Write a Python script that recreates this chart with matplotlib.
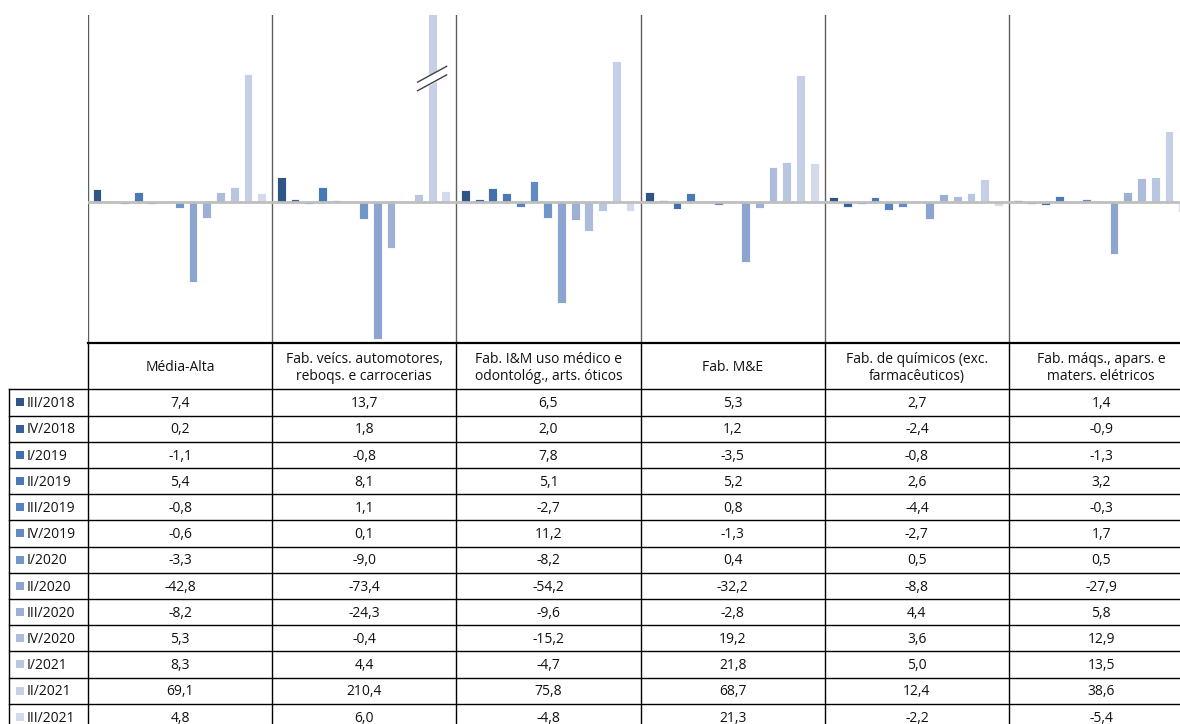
import numpy as np
import matplotlib
matplotlib.use("Agg")
import matplotlib.pyplot as plt

# Quarters (series) and sectors (categories)
quarters = ["III/2018", "IV/2018", "I/2019", "II/2019", "III/2019", "IV/2019",
            "I/2020", "II/2020", "III/2020", "IV/2020", "I/2021", "II/2021", "III/2021"]

sectors = ["Média-Alta",
           "Fab. veícs. automotores,\nreboqs. e carrocerias",
           "Fab. I&M uso médico e\nodontológ., arts. óticos",
           "Fab. M&E",
           "Fab. de químicos (exc.\nfarmacêuticos)",
           "Fab. máqs., apars. e\nmaters. elétricos"]

media_alta = [7.4, 0.2, -1.1, 5.4, -0.8, -0.6, -3.3, -42.8, -8.2, 5.3, 8.3, 69.1, 4.8]
veiculos = [13.7, 1.8, -0.8, 8.1, 1.1, 0.1, -9.0, -73.4, -24.3, -0.4, 4.4, 210.4, 6.0]
med_oticos = [6.5, 2.0, 7.8, 5.1, -2.7, 11.2, -8.2, -54.2, -9.6, -15.2, -4.7, 75.8, -4.8]
maq_equip = [5.3, 1.2, -3.5, 5.2, 0.8, -1.3, 0.4, -32.2, -2.8, 19.2, 21.8, 68.7, 21.3]
quimicos = [2.7, -2.4, -0.8, 2.6, -4.4, -2.7, 0.5, -8.8, 4.4, 3.6, 5.0, 12.4, -2.2]
eletricos = [1.4, -0.9, -1.3, 3.2, -0.3, 1.7, 0.5, -27.9, 5.8, 12.9, 13.5, 38.6, -5.4]

values = np.array([media_alta, veiculos, med_oticos, maq_equip, quimicos, eletricos])

colors = ["#2F5486", "#385F98", "#4170AC", "#4A79B8", "#5682C0", "#6189C4",
          "#7196CA", "#8CA5CF", "#9DB0D4", "#ADBCDC", "#B9C6E0", "#C5D0E6", "#D3DAEC"]

W, H = 1180, 724
fig = plt.figure(figsize=(W / 100, H / 100), dpi=100)
plt.rcParams["font.family"] = ["Open Sans", "DejaVu Sans"]

n_cat = len(sectors)
n_ser = len(quarters)
col_px = 184.2
x0_px = 88

# ---- bar chart ----
chart_top, chart_bot = 15, 343.3
ax = fig.add_axes([x0_px / W, 1 - chart_bot / H, n_cat * col_px / W, (chart_bot - chart_top) / H])
ax.set_xlim(0, n_cat)
ax.set_ylim(-75.8, 100.7)
ax.axis("off")

slot = 13.72 / col_px
first = 9.0 / col_px
bw = 8.8 / col_px
for i in range(n_ser):
    xs = np.arange(n_cat) + first + i * slot
    ax.bar(xs, values[:, i], width=bw, color=colors[i], edgecolor="white",
           linewidth=0.6, zorder=2)

ax.axhline(0, color="#BFBFBF", lw=2, zorder=3)
for c in range(n_cat + 1):
    ax.axvline(c, color="#5E5E5E", lw=1, zorder=1)

# break mark on the clipped bar
top_lim = ax.get_ylim()[1]
for c in range(n_cat):
    for i in range(n_ser):
        if values[c, i] > top_lim:
            xc = c + first + i * slot
            dx = 14.5 / col_px
            xx = np.array([xc - dx, xc + dx])
            ylo = np.array([62.0, 70.5]) - 2
            yhi = ylo + 4.6
            ax.fill_between(xx, ylo, yhi, color="white", zorder=4)
            ax.plot(xx, ylo, color="#404040", lw=1, zorder=5)
            ax.plot(xx, yhi, color="#404040", lw=1, zorder=5)

# ---- data table ----
row_px = 26.2
head_px = 389.3 - chart_bot
tab_left_px = 9.3
tab_bot_px = 389.3 + n_ser * row_px
tx = fig.add_axes([tab_left_px / W, 1 - tab_bot_px / H,
                   (x0_px + n_cat * col_px - tab_left_px) / W, (tab_bot_px - chart_bot) / H])
lab_x = (tab_left_px - x0_px) / col_px
hh = head_px / row_px
tx.set_xlim(lab_x, n_cat)
tx.set_ylim(hh + n_ser, 0)
tx.axis("off")

tx.plot([0, n_cat], [0, 0], color="black", lw=1.6, clip_on=False)
for k in range(n_ser + 1):
    tx.plot([lab_x, n_cat], [hh + k, hh + k], color="black", lw=1, clip_on=False)
tx.plot([lab_x, lab_x], [hh, hh + n_ser], color="black", lw=1, clip_on=False)
for c in range(n_cat + 1):
    tx.plot([c, c], [0, hh + n_ser], color="black", lw=1, clip_on=False)

fs = 10
for c, name in enumerate(sectors):
    tx.text(c + 0.5, hh / 2 + 0.05, name, ha="center", va="center", fontsize=fs,
            linespacing=1.2, color="#111111")
    for k in range(n_ser):
        txt = f"{values[c, k]:.1f}".replace(".", ",")
        tx.text(c + 0.5, hh + k + 0.55, txt, ha="center", va="center", fontsize=fs,
                color="#111111")

mk_x = (20 - x0_px) / col_px
lbl_x = (27 - x0_px) / col_px
for k, q in enumerate(quarters):
    tx.scatter([mk_x], [hh + k + 0.5], marker="s", s=28, color=colors[k], linewidths=0)
    tx.text(lbl_x, hh + k + 0.55, q, ha="left", va="center", fontsize=fs, color="#111111")

fig.savefig("out.png", dpi=100)
